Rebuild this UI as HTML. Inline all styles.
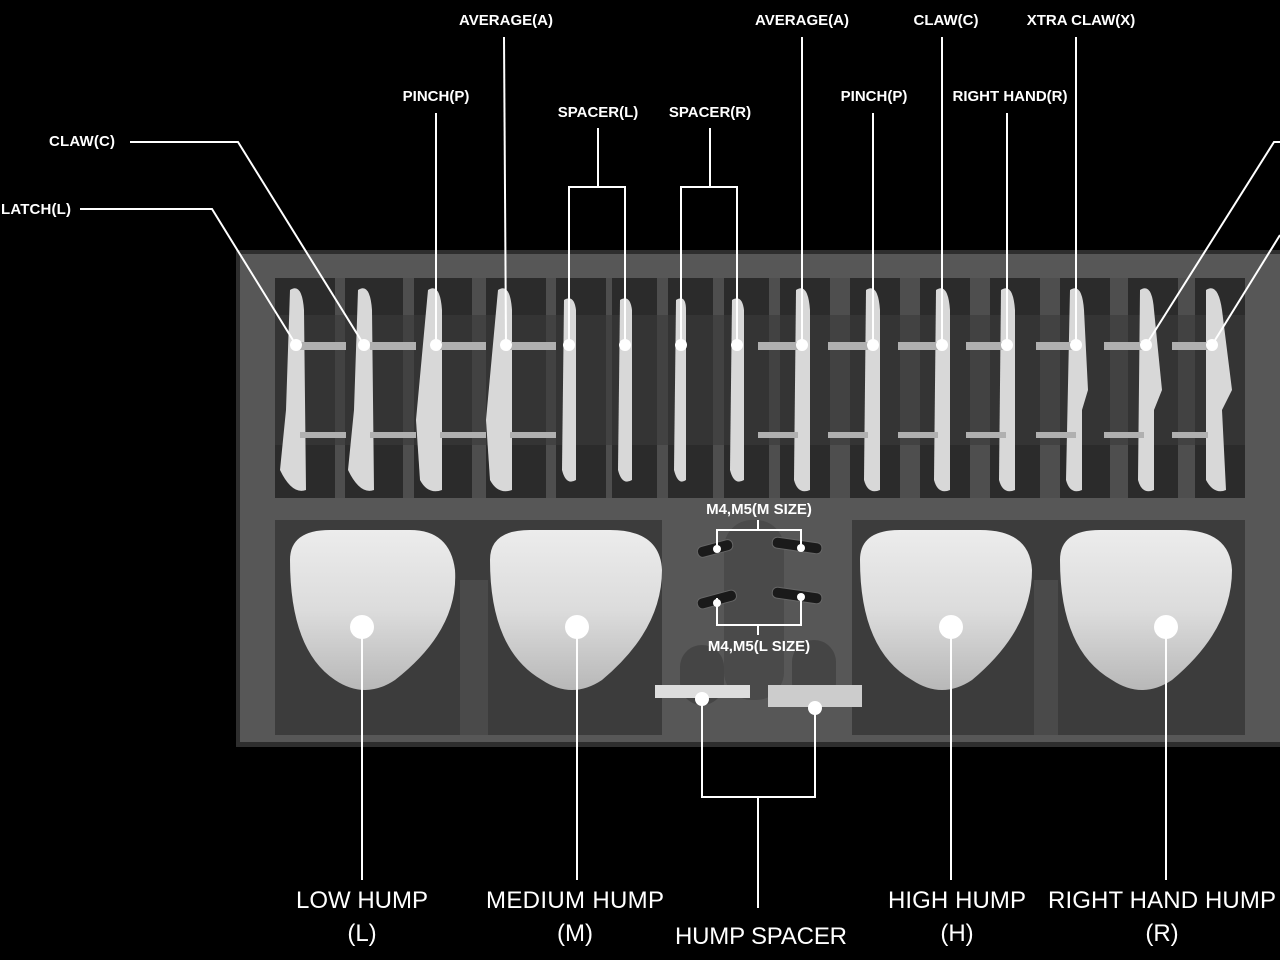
<!DOCTYPE html>
<html><head><meta charset="utf-8"><style>
html,body{margin:0;padding:0;background:#000;width:1280px;height:960px;overflow:hidden}
svg text{font-family:"Liberation Sans",sans-serif;fill:#fff}
.s{font-size:15px;font-weight:bold}
.b{font-size:24px}
</style></head><body>
<svg width="1280" height="960" viewBox="0 0 1280 960" xmlns="http://www.w3.org/2000/svg">
<defs><linearGradient id="hg" x1="0" y1="0" x2="0" y2="1"><stop offset="0" stop-color="#ececec"/><stop offset="0.5" stop-color="#dcdcdc"/><stop offset="1" stop-color="#b8b8b8"/></linearGradient></defs>
<rect width="1280" height="960" fill="#000"/>
<rect x="236" y="250" width="1044" height="497" fill="#2e2e2e"/>
<rect x="240" y="254" width="1040" height="488" fill="#575757"/>
<rect x="275" y="278" width="970" height="220" fill="#4e4e4e"/>
<g fill="#2b2b2b">
<rect x="275" y="278" width="60" height="220"/>
<rect x="345" y="278" width="58" height="220"/>
<rect x="414" y="278" width="58" height="220"/>
<rect x="486" y="278" width="60" height="220"/>
<rect x="556" y="278" width="50" height="220"/>
<rect x="612" y="278" width="45" height="220"/>
<rect x="668" y="278" width="45" height="220"/>
<rect x="724" y="278" width="45" height="220"/>
<rect x="780" y="278" width="50" height="220"/>
<rect x="850" y="278" width="50" height="220"/>
<rect x="920" y="278" width="50" height="220"/>
<rect x="990" y="278" width="50" height="220"/>
<rect x="1060" y="278" width="50" height="220"/>
<rect x="1128" y="278" width="50" height="220"/>
<rect x="1195" y="278" width="50" height="220"/>
</g>
<rect x="275" y="315" width="970" height="130" fill="#3a3a3a" opacity="0.6"/>
<g fill="#d8d8d8">
<path d="M290 290 q12 -8 14 20 l2 180 q-14 5 -26 -20 l6 -60 z"/>
<path d="M358 290 q12 -8 14 20 l2 180 q-14 5 -26 -20 l6 -60 z"/>
<path d="M428 290 q12 -8 14 20 l0 180 q-14 5 -22 -10 l-4 -60 z"/>
<path d="M498 290 q12 -8 14 20 l0 180 q-14 5 -22 -10 l-4 -60 z"/>
<path d="M564 300 q10 -6 12 10 l0 170 q-10 6 -14 -10 z"/>
<path d="M620 300 q10 -6 12 10 l0 170 q-10 6 -14 -10 z"/>
<path d="M676 300 q10 -6 10 10 l0 170 q-8 6 -12 -10 z"/>
<path d="M732 300 q10 -6 12 10 l0 170 q-10 6 -14 -10 z"/>
<path d="M796 290 q12 -8 14 20 l0 180 q-12 5 -16 -10 z"/>
<path d="M866 290 q12 -8 14 20 l0 180 q-12 5 -16 -10 z"/>
<path d="M936 290 q12 -8 14 20 l0 180 q-12 5 -16 -10 z"/>
<path d="M1001 290 q12 -8 14 20 l0 180 q-12 5 -16 -10 z"/>
<path d="M1070 290 q12 -8 14 20 l4 80 l-6 20 l0 80 q-12 5 -16 -10 z"/>
<path d="M1140 290 q12 -8 14 20 l8 80 l-8 20 l0 80 q-12 5 -16 -10 z"/>
<path d="M1206 290 q12 -8 16 20 l10 80 l-10 20 l4 80 q-12 5 -20 -10 z"/>
</g>
<g fill="#b0b0b0">
<rect x="300" y="342" width="46" height="8"/><rect x="300" y="432" width="46" height="6"/>
<rect x="370" y="342" width="46" height="8"/><rect x="370" y="432" width="46" height="6"/>
<rect x="440" y="342" width="46" height="8"/><rect x="440" y="432" width="46" height="6"/>
<rect x="510" y="342" width="46" height="8"/><rect x="510" y="432" width="46" height="6"/>
<rect x="758" y="342" width="40" height="8"/><rect x="758" y="432" width="40" height="6"/>
<rect x="828" y="342" width="40" height="8"/><rect x="828" y="432" width="40" height="6"/>
<rect x="898" y="342" width="40" height="8"/><rect x="898" y="432" width="40" height="6"/>
<rect x="966" y="342" width="40" height="8"/><rect x="966" y="432" width="40" height="6"/>
<rect x="1036" y="342" width="40" height="8"/><rect x="1036" y="432" width="40" height="6"/>
<rect x="1104" y="342" width="40" height="8"/><rect x="1104" y="432" width="40" height="6"/>
<rect x="1172" y="342" width="36" height="8"/><rect x="1172" y="432" width="36" height="6"/>
</g>
<rect x="275" y="520" width="387" height="215" fill="#3c3c3c"/>
<rect x="852" y="520" width="393" height="215" fill="#3c3c3c"/>
<rect x="460" y="580" width="28" height="155" fill="#4a4a4a"/>
<rect x="1034" y="580" width="24" height="155" fill="#4a4a4a"/>
<rect x="724" y="520" width="60" height="180" rx="28" fill="#4a4a4a"/>
<rect x="680" y="645" width="44" height="60" rx="22" fill="#454545"/>
<rect x="792" y="640" width="44" height="65" rx="22" fill="#454545"/>
<g fill="url(#hg)">
<path d="M290 560 q0 -30 40 -30 l80 0 q40 0 45 40 q4 60 -60 110 q-30 20 -60 0 q-45 -30 -45 -120 z"/>
<path d="M490 560 q0 -30 40 -30 l80 0 q50 0 52 40 q0 60 -60 110 q-30 20 -60 0 q-52 -30 -52 -120 z"/>
<path d="M860 560 q0 -30 40 -30 l80 0 q50 0 52 40 q0 60 -60 110 q-30 20 -60 0 q-52 -30 -52 -120 z"/>
<path d="M1060 560 q0 -30 40 -30 l80 0 q50 0 52 40 q0 60 -60 110 q-30 20 -60 0 q-52 -30 -52 -120 z"/>
</g>
<rect x="655" y="685" width="95" height="13" fill="#ddd"/>
<path d="M768 685 h94 v22 h-94 z" fill="#ccc"/>
<g fill="#1a1a1a" stroke="#666" stroke-width="1">
<rect x="697" y="543" width="36" height="11" rx="5" transform="rotate(-15 715 548)"/>
<rect x="772" y="540" width="50" height="11" rx="5" transform="rotate(8 797 546)"/>
<rect x="697" y="594" width="40" height="11" rx="5" transform="rotate(-15 717 600)"/>
<rect x="772" y="590" width="50" height="11" rx="5" transform="rotate(8 797 596)"/>
</g>
<g stroke="#fff" stroke-width="2" fill="none">
<polyline points="80,209 212,209 296,345"/>
<polyline points="130,142 238,142 364,345"/>
<line x1="436" y1="113" x2="436" y2="345"/>
<line x1="504" y1="37" x2="506" y2="345"/>
<polyline points="598,128 598,187"/>
<polyline points="569,345 569,187 625,187 625,345"/>
<polyline points="710,128 710,187"/>
<polyline points="681,345 681,187 737,187 737,345"/>
<line x1="802" y1="37" x2="802" y2="345"/>
<line x1="873" y1="113" x2="873" y2="345"/>
<line x1="942" y1="37" x2="942" y2="345"/>
<line x1="1007" y1="113" x2="1007" y2="345"/>
<line x1="1076" y1="37" x2="1076" y2="345"/>
<polyline points="1146,345 1274,142 1280,142"/>
<polyline points="1212,345 1280,235"/>
<polyline points="717,548 717,530 801,530 801,548"/>
<polyline points="758,520 758,530"/>
<polyline points="717,598 717,625 801,625 801,598"/>
<polyline points="758,625 758,635"/>
<line x1="362" y1="627" x2="362" y2="880"/>
<line x1="577" y1="627" x2="577" y2="880"/>
<line x1="951" y1="627" x2="951" y2="880"/>
<line x1="1166" y1="627" x2="1166" y2="880"/>
<polyline points="702,698 702,797 815,797 815,708"/>
<line x1="758" y1="797" x2="758" y2="908"/>
</g>
<g fill="#fff">
<circle cx="296" cy="345" r="6"/><circle cx="364" cy="345" r="6"/><circle cx="436" cy="345" r="6"/>
<circle cx="506" cy="345" r="6"/><circle cx="569" cy="345" r="6"/><circle cx="625" cy="345" r="6"/>
<circle cx="681" cy="345" r="6"/><circle cx="737" cy="345" r="6"/><circle cx="802" cy="345" r="6"/>
<circle cx="873" cy="345" r="6"/><circle cx="942" cy="345" r="6"/><circle cx="1007" cy="345" r="6"/>
<circle cx="1076" cy="345" r="6"/><circle cx="1146" cy="345" r="6"/><circle cx="1212" cy="345" r="6"/>
<circle cx="717" cy="549" r="4"/><circle cx="801" cy="548" r="4"/><circle cx="717" cy="603" r="4"/><circle cx="801" cy="597" r="4"/>
<circle cx="362" cy="627" r="12"/><circle cx="577" cy="627" r="12"/><circle cx="951" cy="627" r="12"/><circle cx="1166" cy="627" r="12"/>
<circle cx="702" cy="699" r="7"/><circle cx="815" cy="708" r="7"/>
</g>
<g class="s">
<text x="1" y="214" textLength="70">LATCH(L)</text>
<text x="49" y="146" textLength="66">CLAW(C)</text>
<text x="436" y="101" text-anchor="middle">PINCH(P)</text>
<text x="506" y="25" text-anchor="middle">AVERAGE(A)</text>
<text x="598" y="117" text-anchor="middle">SPACER(L)</text>
<text x="710" y="117" text-anchor="middle">SPACER(R)</text>
<text x="802" y="25" text-anchor="middle">AVERAGE(A)</text>
<text x="874" y="101" text-anchor="middle">PINCH(P)</text>
<text x="946" y="25" text-anchor="middle">CLAW(C)</text>
<text x="1010" y="101" text-anchor="middle">RIGHT HAND(R)</text>
<text x="1081" y="25" text-anchor="middle">XTRA CLAW(X)</text>
<text x="759" y="514" text-anchor="middle">M4,M5(M SIZE)</text>
<text x="759" y="651" text-anchor="middle">M4,M5(L SIZE)</text>
</g>
<g class="b" text-anchor="middle">
<text x="362" y="908" textLength="132">LOW HUMP</text><text x="362" y="941">(L)</text>
<text x="575" y="908" textLength="178">MEDIUM HUMP</text><text x="575" y="941">(M)</text>
<text x="957" y="908" textLength="138">HIGH HUMP</text><text x="957" y="941">(H)</text>
<text x="1162" y="908" textLength="228">RIGHT HAND HUMP</text><text x="1162" y="941">(R)</text>
<text x="761" y="944" textLength="172">HUMP SPACER</text>
</g>
</svg>
</body></html>
